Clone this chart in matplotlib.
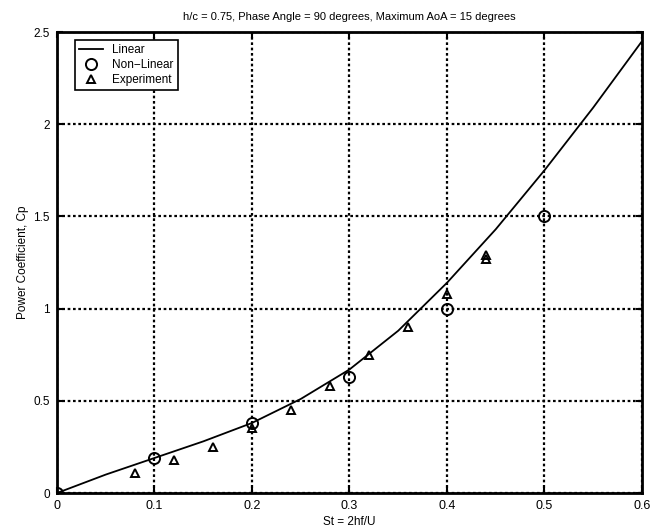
import matplotlib
matplotlib.use("Agg")
import matplotlib.pyplot as plt

plt.rcParams['font.family'] = ['Liberation Sans', 'DejaVu Sans']

# Linear theory curve
lin_x = [0, 0.05, 0.1, 0.15, 0.2, 0.25, 0.3, 0.35, 0.4, 0.45, 0.5, 0.55, 0.6]
lin_y = [0, 0.10, 0.19, 0.28, 0.38, 0.51, 0.67, 0.88, 1.14, 1.43, 1.75, 2.09, 2.45]

# Non-linear
nl_x = [0, 0.1, 0.2, 0.3, 0.4, 0.5]
nl_y = [0, 0.19, 0.38, 0.63, 1.0, 1.5]

# Experiment
ex_x = [0.08, 0.12, 0.16, 0.2, 0.24, 0.28, 0.32, 0.36, 0.4, 0.44, 0.44]
ex_y = [0.11, 0.18, 0.25, 0.35, 0.45, 0.58, 0.75, 0.90, 1.08, 1.27, 1.29]

xticks = [0, 0.1, 0.2, 0.3, 0.4, 0.5, 0.6]
xticklabels = ['0', '0.1', '0.2', '0.3', '0.4', '0.5', '0.6']
yticks = [0, 0.5, 1, 1.5, 2, 2.5]
yticklabels = ['0', '0.5', '1', '1.5', '2', '2.5']

fig = plt.figure(figsize=(6.58, 5.29), dpi=100)
ax = fig.add_axes([0.0866, 0.068, 0.889, 0.8715])

ax.plot(lin_x, lin_y, color='black', lw=1.3, label='Linear')
ax.plot(nl_x, nl_y, linestyle='none', marker='o', ms=8, mfc='none', mec='black', mew=1.4, label='Non\u2212Linear')
ax.plot(ex_x, ex_y, linestyle='none', marker='^', ms=5.5, mfc='none', mec='black', mew=1.4, label='Experiment')

ax.set_xlim(0, 0.6)
ax.set_ylim(0, 2.5)
ax.set_xticks(xticks)
ax.set_xticklabels(xticklabels)
ax.set_yticks(yticks)
ax.set_yticklabels(yticklabels)
ax.grid(True, color='black', linestyle=(0, (1.2, 1.2)), linewidth=1.6)
ax.tick_params(direction='in', top=True, right=True, labelsize=9, length=4, width=1.5)
ax.tick_params(axis='y', pad=5, labelsize=8.5)
ax.tick_params(axis='x', pad=5)
for s in ax.spines.values():
    s.set_linewidth(2)

ax.set_title('h/c = 0.75, Phase Angle = 90 degrees, Maximum AoA = 15 degrees', fontsize=8, pad=9)
ax.set_xlabel('St = 2hf/U', fontsize=8.5, labelpad=3)
ax.set_ylabel('Power Coefficient, Cp', fontsize=8.5)
ax.yaxis.set_label_coords(-0.048, 0.5)

leg = ax.legend(loc='upper left', bbox_to_anchor=(0.031, 0.983), borderaxespad=0,
                fontsize=8.5, frameon=True, fancybox=False, edgecolor='black',
                framealpha=1, borderpad=0.35, labelspacing=0.25, handlelength=2.0,
                handletextpad=0.8)
leg.get_frame().set_linewidth(1.2)

fig.savefig('out.png', dpi=100)
